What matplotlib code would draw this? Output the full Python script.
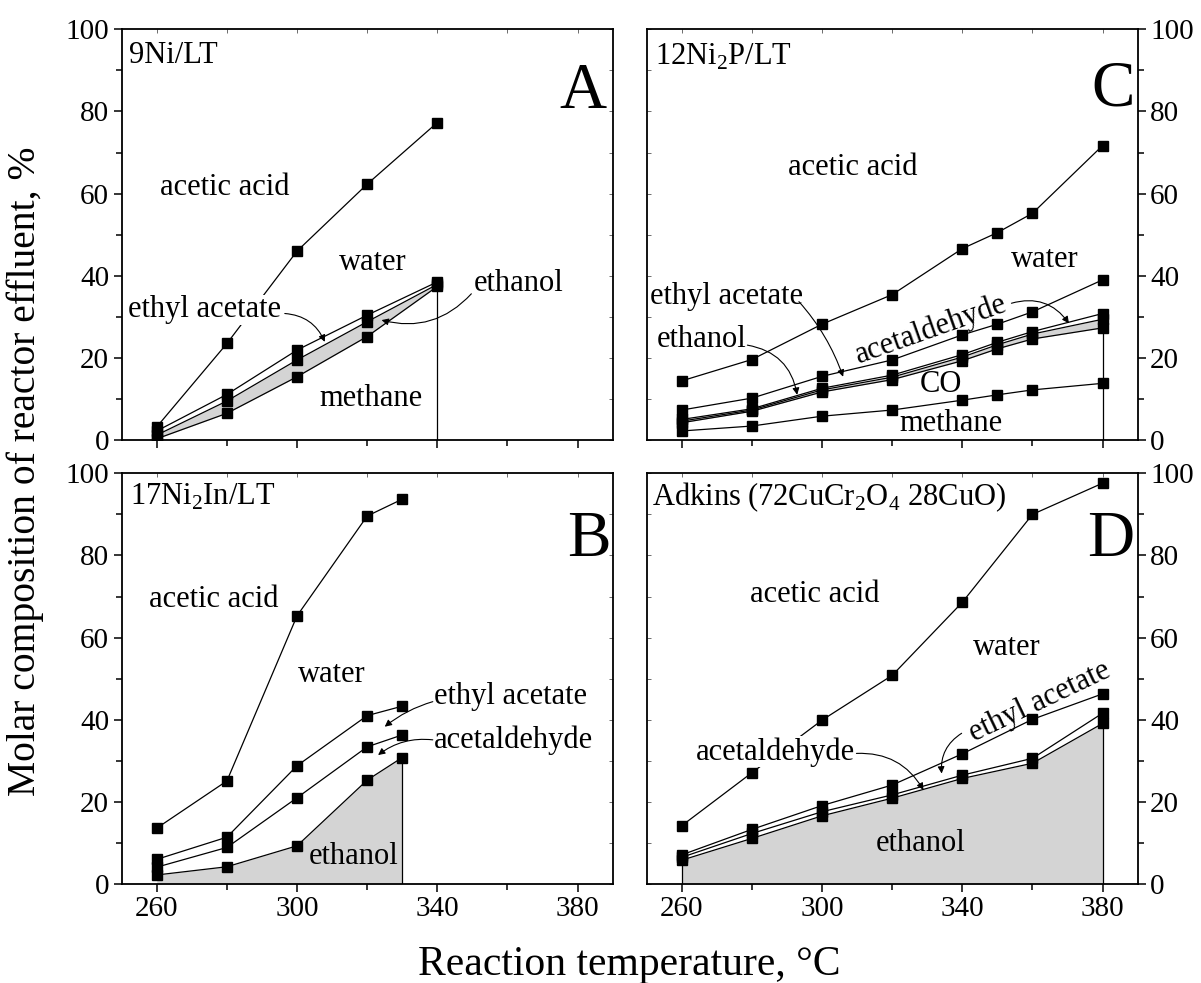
import numpy as np
import matplotlib
matplotlib.use('Agg')
from matplotlib import pyplot as plt
from matplotlib.ticker import MultipleLocator, FixedLocator

plt.rcParams['font.family'] = ['Liberation Serif', 'DejaVu Serif']
plt.rcParams['mathtext.fontset'] = 'custom'
plt.rcParams['mathtext.rm'] = 'Liberation Serif'

# ---- data (molar %, cumulative boundaries) ----
tA = [260, 280, 300, 320, 340]
A_acetic = [3.2, 23.5, 46.0, 62.3, 77.3]
A_water = [2.2, 11.1, 21.9, 30.4, 38.5]
A_etac = [1.2, 9.5, 19.5, 28.8, 37.9]
A_etoh = [0.3, 6.5, 15.4, 25.2, 37.4]

tB = [260, 280, 300, 320, 330]
B_acetic = [13.6, 25.1, 65.3, 89.6, 93.7]
B_water = [6.0, 11.4, 28.8, 41.0, 43.3]
B_etac = [4.1, 8.9, 21.0, 33.4, 36.3]
B_ald = [2.2, 4.2, 9.3, 25.3, 30.8]

tC = [260, 280, 300, 320, 340, 350, 360, 380]
C_acetic = [14.4, 19.6, 28.2, 35.4, 46.6, 50.5, 55.2, 71.7]
C_water = [7.3, 10.2, 15.5, 19.5, 25.6, 28.2, 31.2, 39.0]
C_etac = [5.0, 7.6, 12.6, 15.8, 20.8, 23.8, 26.4, 30.8]
C_etoh = [4.6, 7.3, 12.2, 15.3, 20.2, 23.2, 25.8, 29.4]
C_ald = [4.2, 7.0, 11.7, 14.7, 19.3, 22.2, 24.6, 27.3]
C_co = [2.2, 3.4, 5.8, 7.3, 9.7, 11.0, 12.2, 13.8]

tD = [260, 280, 300, 320, 340, 360, 380]
D_acetic = [14.2, 27.1, 39.9, 50.8, 68.6, 90.0, 97.6]
D_water = [7.1, 13.3, 19.1, 24.1, 31.7, 40.1, 46.3]
D_etac = [6.5, 12.3, 17.6, 21.7, 26.5, 30.6, 41.6]
D_ald = [5.8, 11.1, 16.6, 20.9, 25.7, 29.4, 39.1]

GRAY = '#d4d4d4'
FS_TXT = 22

fig = plt.figure(figsize=(12.01, 9.83), dpi=100)
W, H = 491.0 / 1201, 410.7 / 983
axA = fig.add_axes([121.7 / 1201, 543.0 / 983, W, H])
axB = fig.add_axes([121.7 / 1201, 99.0 / 983, W, H])
axC = fig.add_axes([646.7 / 1201, 543.0 / 983, W, H])
axD = fig.add_axes([646.7 / 1201, 99.0 / 983, W, H])


def setup(ax, right=False, bottom=False):
    ax.set_xlim(250, 390)
    ax.set_ylim(0, 100)
    ax.xaxis.set_major_locator(FixedLocator([260, 300, 340, 380]))
    ax.xaxis.set_minor_locator(FixedLocator([280, 320, 360]))
    ax.yaxis.set_major_locator(MultipleLocator(20))
    ax.yaxis.set_minor_locator(MultipleLocator(10))
    for s in ax.spines.values():
        s.set_linewidth(1.3)
    ax.tick_params(which='both', direction='out', width=1.1, labelsize=21, pad=3)
    ax.tick_params(which='major', length=6)
    ax.tick_params(which='minor', length=4)
    if right:
        ax.yaxis.tick_right()
    if not bottom:
        ax.tick_params(axis='x', labelbottom=False)
    # mirrored inner ticks on the other sides
    sx = ax.secondary_xaxis('top')
    sx.xaxis.set_major_locator(FixedLocator([260, 280, 300, 320, 340, 360, 380]))
    sx.tick_params(direction='in', length=3, width=0.6, labeltop=False, colors='#555555')
    sx.spines['top'].set_visible(False)
    sy = ax.secondary_yaxis('left' if right else 'right')
    sy.yaxis.set_major_locator(MultipleLocator(10))
    sy.tick_params(direction='in', length=3, width=0.6, labelleft=False, labelright=False,
                   colors='#555555')
    for s in sy.spines.values():
        s.set_visible(False)


def lines(ax, t, *series):
    for s in series:
        ax.plot(t, s, color='k', lw=0.9, marker='s', ms=6.5, mfc='k', mec='k', zorder=3)


def arrow(ax, start, tip, rad):
    ax.annotate('', xy=tip, xytext=start,
                arrowprops=dict(arrowstyle='-|>', color='k', lw=0.8, mutation_scale=10,
                                shrinkA=0, shrinkB=0,
                                connectionstyle='arc3,rad=%s' % rad))


# ---- A ----
ax = axA
setup(ax)
ax.fill_between(tA, A_etoh, A_etac, color=GRAY, lw=0, zorder=1)
ax.vlines(tA[-1], 0, A_etoh[-1], color='k', lw=0.9, zorder=2)
lines(ax, tA, A_acetic, A_water, A_etac, A_etoh)
ax.text(252, 93.7, '9Ni/LT', fontsize=FS_TXT, ha='left', va='center')
ax.text(381.5, 84.6, 'A', fontsize=47, ha='center', va='center')
ax.text(279.4, 61.5, 'acetic acid', fontsize=FS_TXT, ha='center', va='center')
ax.text(321.7, 43.2, 'water', fontsize=FS_TXT, ha='center', va='center')
ax.text(350.5, 38.2, 'ethanol', fontsize=FS_TXT, ha='left', va='center')
ax.text(273.5, 31.7, 'ethyl acetate', fontsize=FS_TXT, ha='center', va='center',
        bbox=dict(fc='white', ec='none', pad=0.5))
ax.text(321.2, 10.1, 'methane', fontsize=FS_TXT, ha='center', va='center')
arrow(ax, (349.7, 35.6), (324.1, 29.2), -0.3)
arrow(ax, (296.5, 30.8), (307.9, 23.9), -0.3)

# ---- B ----
ax = axB
setup(ax, bottom=True)
ax.fill_between(tB, 0, B_ald, color=GRAY, lw=0, zorder=1)
ax.vlines(tB[-1], 0, B_ald[-1], color='k', lw=0.9, zorder=2)
lines(ax, tB, B_acetic, B_water, B_etac, B_ald)
ax.text(252.4, 94.2, r'17Ni$_\mathregular{2}$In/LT', fontsize=FS_TXT, ha='left', va='center')
ax.text(383.2, 83.8, 'B', fontsize=47, ha='center', va='center')
ax.text(276.3, 69.3, 'acetic acid', fontsize=FS_TXT, ha='center', va='center')
ax.text(309.8, 51.1, 'water', fontsize=FS_TXT, ha='center', va='center')
ax.text(339.0, 45.6, 'ethyl acetate', fontsize=FS_TXT, ha='left', va='center')
ax.text(339.0, 34.9, 'acetaldehyde', fontsize=FS_TXT, ha='left', va='center')
ax.text(316.0, 6.7, 'ethanol', fontsize=FS_TXT, ha='center', va='center')
arrow(ax, (338.7, 44.4), (325.0, 38.3), 0.1)
arrow(ax, (338.7, 35.1), (323.1, 31.4), 0.2)

# ---- C ----
ax = axC
setup(ax, right=True)
ax.fill_between(tC, C_ald, C_etoh, color=GRAY, lw=0, zorder=1)
ax.vlines(tC[-1], 0, C_ald[-1], color='k', lw=0.9, zorder=2)
lines(ax, tC, C_acetic, C_water, C_etac, C_etoh, C_ald, C_co)
ax.text(252.5, 93.3, r'12Ni$_\mathregular{2}$P/LT', fontsize=FS_TXT, ha='left', va='center')
ax.text(382.9, 85.4, 'C', fontsize=47, ha='center', va='center')
ax.text(308.7, 66.4, 'acetic acid', fontsize=FS_TXT, ha='center', va='center')
ax.text(363.5, 44.0, 'water', fontsize=FS_TXT, ha='center', va='center')
ax.text(272.7, 34.9, 'ethyl acetate', fontsize=FS_TXT, ha='center', va='center')
ax.text(265.6, 24.5, 'ethanol', fontsize=FS_TXT, ha='center', va='center')
ax.text(331.1, 26.8, 'acetaldehyde', fontsize=FS_TXT, ha='center', va='center',
        rotation=19.5, rotation_mode='anchor')
ax.text(333.8, 13.6, 'CO', fontsize=FS_TXT, ha='center', va='center')
ax.text(336.8, 4.1, 'methane', fontsize=FS_TXT, ha='center', va='center')
arrow(ax, (293.4, 33.7), (306.0, 15.4), -0.1)
arrow(ax, (278.7, 23.1), (292.9, 11.0), -0.35)
arrow(ax, (354.0, 33.3), (370.4, 28.4), -0.35)

# ---- D ----
ax = axD
setup(ax, right=True, bottom=True)
ax.fill_between(tD, 0, D_ald, color=GRAY, lw=0, zorder=1)
ax.vlines([tD[0], tD[-1]], 0, [D_ald[0], D_ald[-1]], color='k', lw=0.9, zorder=2)
lines(ax, tD, D_acetic, D_water, D_etac, D_ald)
ax.text(251.4, 94.2, r'Adkins (72CuCr$_\mathregular{2}$O$_\mathregular{4}$ 28CuO)',
        fontsize=FS_TXT, ha='left', va='center')
ax.text(382.4, 83.8, 'D', fontsize=47, ha='center', va='center')
ax.text(298.0, 70.6, 'acetic acid', fontsize=FS_TXT, ha='center', va='center')
ax.text(352.6, 57.6, 'water', fontsize=FS_TXT, ha='center', va='center')
ax.text(362.2, 44.4, 'ethyl acetate', fontsize=FS_TXT, ha='center', va='center',
        rotation=25.5, rotation_mode='anchor')
ax.text(286.6, 32.2, 'acetaldehyde', fontsize=FS_TXT, ha='center', va='center',
        bbox=dict(fc='white', ec='none', pad=0.5))
ax.text(328.0, 9.9, 'ethanol', fontsize=FS_TXT, ha='center', va='center')
arrow(ax, (339.8, 36.7), (334.1, 26.9), 0.3)
arrow(ax, (309.8, 31.8), (328.9, 22.9), -0.3)

fig.text(25 / 1201, 0.521, 'Molar composition of reactor effluent, %', fontsize=28.5,
         rotation=90, ha='center', va='center')
fig.text(629.7 / 1201, 8.0 / 983, 'Reaction temperature, °C', fontsize=30,
         ha='center', va='baseline')

fig.savefig('out.png', dpi=100)
